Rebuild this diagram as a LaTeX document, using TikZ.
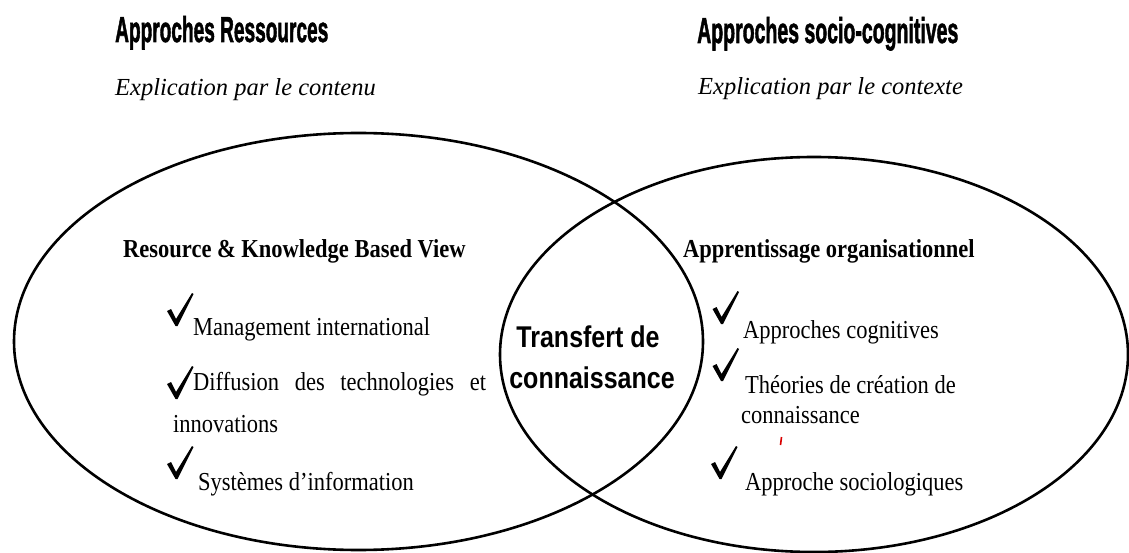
\documentclass[tikz,border=0pt]{standalone}
\usepackage{fontspec}
\usetikzlibrary{shapes.geometric}
\setmainfont{Liberation Serif}
\newfontfamily\hdrfont{Liberation Sans}[BoldFeatures={FakeBold=2}]
\newfontfamily\tsans{Liberation Sans}
\newcommand\vst[1]{\scalebox{1}[1.15]{#1}}
\tikzset{
  ell/.style={ellipse, draw, line width=2.6pt, inner sep=0pt, outer sep=0pt},
  hdr/.style={anchor=base west, inner sep=0pt, font=\hdrfont\bfseries\fontsize{30}{36}\selectfont},
  expl/.style={anchor=base west, inner sep=0pt, font=\itshape\fontsize{24.5}{29}\selectfont},
  ttl/.style={anchor=base west, inner sep=0pt, font=\bfseries\fontsize{22.5}{27}\selectfont},
  item/.style={anchor=base west, inner sep=0pt, font=\fontsize{22.5}{27}\selectfont},
  ctr/.style={anchor=base, inner sep=0pt, font=\tsans\bfseries\fontsize{25}{30}\selectfont},
  chk/.pic={\fill (-9,-14) -- (-5,-16) -- (0,-6) -- (16,-32) -- (17.5,-31) -- (1.5,1) -- (-0.5,1) -- cycle;}
}
\begin{document}
\begin{tikzpicture}[x=1pt,y=-1pt]
\useasboundingbox[fill=white] (0,0) rectangle (1129,553);
% ellipses
\node[ell, minimum width=689pt, minimum height=417pt] (L) at (358.5,341.5) {};
\node[ell, minimum width=628pt, minimum height=395pt] (R) at (814,354.5) {};
% headers
\node[hdr] (h1) at (115,42) {\scalebox{0.636}[1.2]{Approches Ressources}};
\node[hdr] (h2) at (697,43) {\scalebox{0.65}[1.2]{Approches socio-cognitives}};
\node[expl] (e1) at (115,96) {Explication par le contenu};
\node[expl] (e2) at (698,95) {Explication par le contexte};
% left content
\node[ttl] (lt) at (123,258) {\vst{Resource \& Knowledge Based View}};
\pic at (176,325) {chk};
\node[item] (l1) at (193,335) {\vst{Management international}};
\pic at (176,398) {chk};
\node[item] (l2) at (193,390) {\vst{\makebox[293pt][s]{Diffusion des technologies et}}};
\node[item] (l2b) at (173,432) {\vst{innovations}};
\pic at (176,478) {chk};
\node[item] (l3) at (198,490) {\vst{Systèmes d’information}};
% centre
\node[ctr] (t1) at (588,347) {\scalebox{1}[1.2]{Transfert de}};
\node[ctr] (t2) at (592,388) {\scalebox{1}[1.2]{connaissance}};
% right content
\node[ttl] (rt) at (683,258) {\vst{Apprentissage organisationnel}};
\pic at (721.5,323) {chk};
\node[item] (r1) at (743,338) {\vst{Approches cognitives}};
\pic at (721.5,380) {chk};
\node[item] (r2) at (745,393) {\vst{Théories de création de}};
\node[item] (r2b) at (741,423) {\vst{connaissance}};
\pic at (720,478) {chk};
\node[item] (r3) at (745,490) {\vst{Approche sociologiques}};
\draw[red!85!black, line width=1.6pt] (781.5,437) -- (780.5,445);
\end{tikzpicture}
\end{document}
